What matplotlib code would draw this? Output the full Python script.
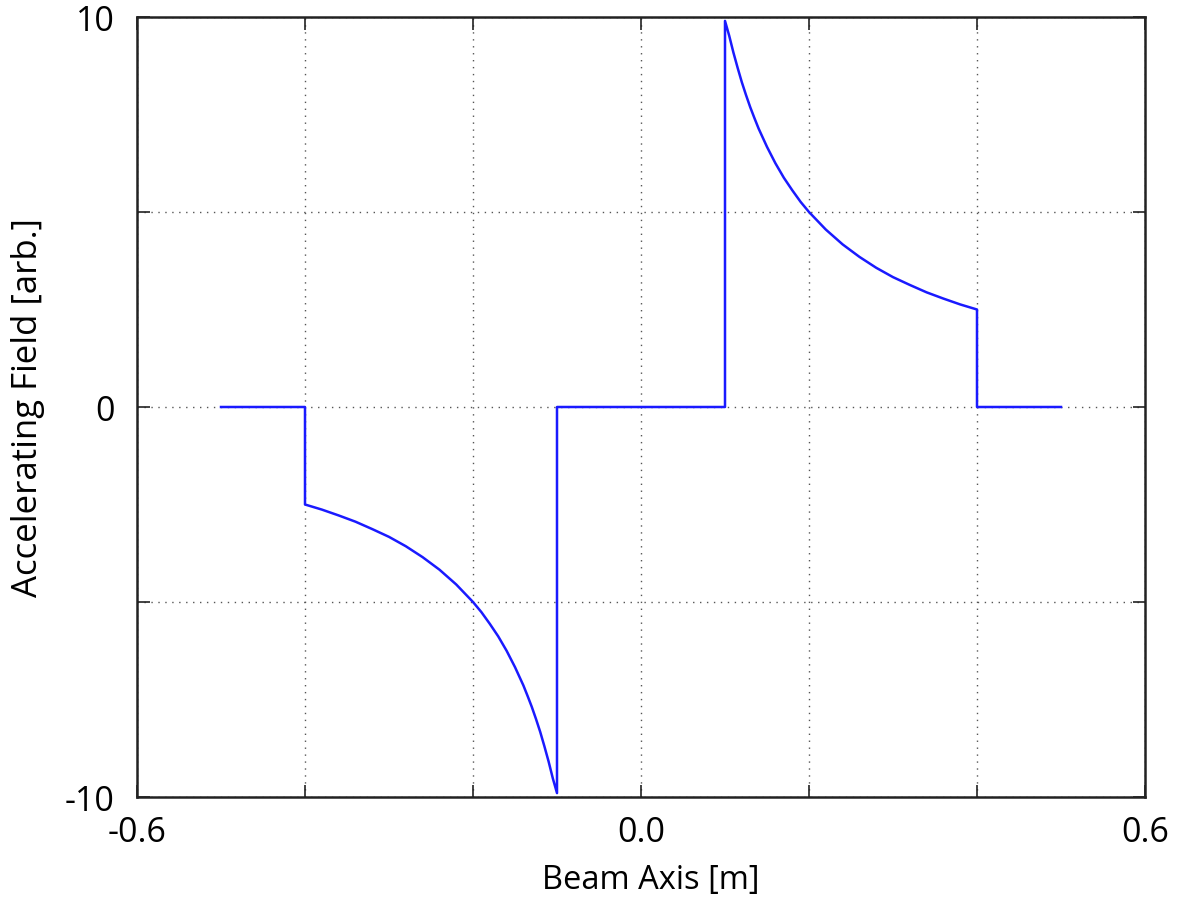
import matplotlib
matplotlib.use("Agg")
import matplotlib.pyplot as plt
import numpy as np

# Values
x_neg = [-0.50, -0.40, -0.40, -0.38, -0.36, -0.34, -0.32, -0.30, -0.28, -0.26, -0.24, -0.22,
         -0.20, -0.19, -0.18, -0.17, -0.16, -0.15, -0.14, -0.135, -0.13, -0.125, -0.12,
         -0.115, -0.11, -0.105, -0.10, -0.10]
y_neg = [0.0, 0.0, -2.50, -2.63, -2.78, -2.94, -3.13, -3.33, -3.57, -3.85, -4.17, -4.55,
         -5.00, -5.26, -5.56, -5.88, -6.25, -6.67, -7.14, -7.41, -7.69, -8.00, -8.33,
         -8.70, -9.09, -9.52, -9.9, 0.0]
x_pos = [-0.10, 0.10, 0.10, 0.105, 0.11, 0.115, 0.12, 0.125, 0.13, 0.135, 0.14, 0.15, 0.16,
         0.17, 0.18, 0.19, 0.20, 0.22, 0.24, 0.26, 0.28, 0.30, 0.32, 0.34, 0.36, 0.38,
         0.40, 0.40, 0.50]
y_pos = [0.0, 0.0, 9.9, 9.52, 9.09, 8.70, 8.33, 8.00, 7.69, 7.41, 7.14, 6.67, 6.25,
         5.88, 5.56, 5.26, 5.00, 4.55, 4.17, 3.85, 3.57, 3.33, 3.13, 2.94, 2.78, 2.63,
         2.50, 0.0, 0.0]

x_ticks = [-0.6, -0.4, -0.2, 0.0, 0.2, 0.4, 0.6]
x_labels = ["-0.6", "", "", "0.0", "", "", "0.6"]
y_ticks = [-10, -5, 0, 5, 10]
y_labels = ["-10", "", "0", "", "10"]

plt.rcParams['font.family'] = ['Open Sans', 'DejaVu Sans']

fig = plt.figure(figsize=(11.78, 9.04), dpi=100)
ax = fig.add_axes([137/1178, 106/904, 1008/1178, 780/904])

ax.plot(x_neg + x_pos, y_neg + y_pos, color='#1a1aff', lw=1.8)

ax.set_xlim(-0.6, 0.6)
ax.set_ylim(-10, 10)
ax.set_xticks(x_ticks)
ax.set_xticklabels(x_labels)
ax.set_yticks(y_ticks)
ax.set_yticklabels(y_labels)
ax.tick_params(direction='in', length=9, width=1.2, top=True, right=True,
               labelsize=24.5, pad=13, color='#222222')
ax.tick_params(axis='y', pad=16)
ax.grid(True, color='#555555', linestyle=(0, (1, 4)), linewidth=1.0)
for s in ax.spines.values():
    s.set_linewidth(1.8)
    s.set_color('#222222')

ax.set_xlabel('Beam Axis [m]', fontsize=23.5, labelpad=12)
ax.xaxis.set_label_coords(0.51, -0.085)
ax.set_ylabel('Accelerating Field [arb.]', fontsize=25, labelpad=14)

fig.savefig('out.png', dpi=100)
